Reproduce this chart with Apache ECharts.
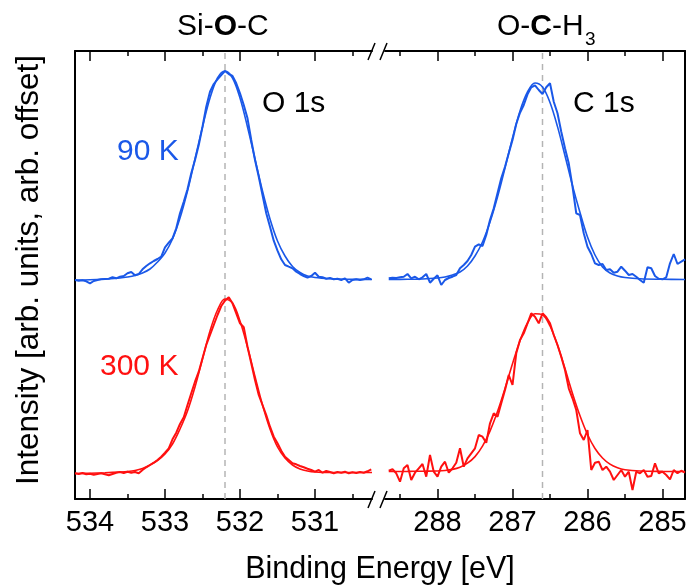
<!DOCTYPE html>
<html><head><meta charset="utf-8">
<script src="https://cdn.jsdelivr.net/npm/echarts@6/dist/echarts.min.js"></script>
<style>html,body{margin:0;padding:0;background:#fff}#c{width:687px;height:588px}</style>
</head><body><div id="c"></div><script>
// ---------- data ----------
const eLeft = [534.2,534.15,534.1,534.05,534,533.95,533.9,533.85,533.8,533.75,533.7,533.65,533.6,533.55,533.5,533.45,533.4,533.35,533.3,533.25,533.2,533.15,533.1,533.05,533,532.95,532.9,532.85,532.8,532.75,532.7,532.65,532.6,532.55,532.5,532.45,532.4,532.35,532.3,532.25,532.2,532.15,532.1,532.05,532,531.95,531.9,531.85,531.8,531.75,531.7,531.65,531.6,531.55,531.5,531.45,531.4,531.35,531.3,531.25,531.2,531.15,531.1,531.05,531,530.95,530.9,530.85,530.8,530.75,530.7,530.65,530.6,530.55,530.5,530.45,530.4,530.35,530.3,530.25];
const blueO = [219,218.3,218.7,217.7,215.7,218,219,219.7,220,220.3,221.7,220.7,222.3,223,225.7,227,223.7,225,229.7,233,235.7,238,240,242.3,251.7,256.3,260.7,270.7,285.7,297.3,309.7,325.7,339,354,372.3,392.3,407.3,415,419.7,424,428,425,423,415.7,405.7,394,380.7,359,339,322.3,304,285.7,272.3,258.3,248.3,239.7,234,232.3,230.7,227.3,225,223,221.3,223,226.3,222.3,221.7,220.3,221,219.7,220.3,219,220.7,216.3,219,219.7,219,219.7,221.3,219.7];
const redO = [25.7,25,26,24.7,25.3,24.3,25,25.7,24.7,23.7,25,26.3,27,26,27.3,26.3,27,25.7,29,31.7,34,36.3,39,42.3,46.3,50.7,59.7,66.3,75,81.7,94,105.7,117.3,127.3,140.7,154,164,174,184,193,198.3,201.7,195.7,185.7,175.7,171.7,152.3,135.7,119,104,94,84,72.3,62.3,55.7,48.3,42.3,39,35.7,34.7,33,31.7,30.3,29,27.3,29,26.3,28,27,25.7,27,26.3,27.3,25.7,26.7,26,27,26.3,27.7,29.7];
const fLeft = [534.2,534,533.8,533.6,533.5,533.4,533.3,533.2,533.1,533,532.9,532.8,532.7,532.6,532.5,532.4,532.3,532.2,532.1,532,531.9,531.8,531.7,531.6,531.5,531.4,531.3,531.2,531.1,531,530.8,530.6,530.24];
const blueOFit = [219,219.3,220,221,222,223.5,226,230,237,246,260,281,308,340,372,401,421,428,421,401,372,340,308,280,258,243,232.5,226.5,223,221.5,220.3,219.8,219.5];
const redOFit = [25.5,25.8,26.3,27,27.5,28.5,30.5,34,38.5,45,55,70,88,112,140,168,189,200,196,178,152,122.5,94,70,52,41,34,30,28,27,26.5,26.5,26.5];

const eRight = [288.65,288.6,288.55,288.5,288.45,288.4,288.35,288.3,288.25,288.2,288.15,288.1,288.05,288,287.95,287.9,287.85,287.8,287.75,287.7,287.65,287.6,287.55,287.5,287.45,287.4,287.35,287.3,287.25,287.2,287.15,287.1,287.05,287,286.95,286.9,286.85,286.8,286.75,286.7,286.65,286.6,286.55,286.5,286.45,286.4,286.35,286.3,286.25,286.2,286.15,286.1,286.05,286,285.95,285.9,285.85,285.8,285.75,285.7,285.65,285.6,285.55,285.5,285.45,285.4,285.35,285.3,285.25,285.2,285.15,285.1,285.05,285,284.95,284.9,284.85,284.8,284.75,284.7];
const blueC = [220.7,221.3,221,221.7,222.3,225,220.7,222.3,219.7,221.7,225,216.3,220.3,223.7,214,219,221,222.3,224,230.7,234,238,244,252.3,254.7,253,264,279,290.7,305.7,320.7,332.3,345.7,359,375,386.3,394,404.7,411.7,413.7,409,405,411.7,415.7,397.3,385.7,367.3,350.7,335.7,312.3,285.7,284,265.7,252.3,245,235.7,234,235,229,229.7,226.3,227.3,232.3,228.3,224,225,222.3,219,216.3,231.7,230.7,223,220.3,219.7,221.7,235.7,245,235,237.3,239.7];
const redC = [28.3,29.7,25.7,17.3,30.7,34,19,26.3,30.7,35,22.3,44,27.3,22.3,32.3,37.3,26.3,30.7,36.3,50.7,32.3,40.7,45.7,50.7,64,62.3,56.3,75.7,85.7,82.3,95.7,109,124,114,145.7,159,165.7,175.7,185.7,182.3,175.7,185.7,181.7,175.7,164,154,142.3,129,110.7,100.7,89,65.7,59,69,29,36.3,37.3,29,32.3,27.3,19,24,29,22.3,27.3,9,27.3,25.7,29,22.3,23,35.7,25.7,27.3,24,19.7,29,25.7,28.3,26.3];
const fRight = [288.65,288.4,288.2,288,287.9,287.8,287.7,287.6,287.5,287.4,287.3,287.2,287.1,287,286.9,286.8,286.7,286.6,286.5,286.4,286.3,286.2,286.1,286,285.9,285.8,285.7,285.6,285.5,285.3,285,284.7];
const blueCFit = [219.5,219.7,220,221,222,224,227,233,243,257,277,302,331,361,388,407,416,412,396.5,372.4,343.3,313.4,286.5,262,244,232,226,223,221.5,220.2,219.7,219.5];
const redCFit = [27.5,27.6,27.8,28,28.5,29.6,31.8,35.8,42.4,52.9,67.9,87.4,110.5,135.3,158.3,176,185.2,184.1,173,154,130.4,105.6,83.2,64.5,50.5,41,34.8,31.2,29.3,28,27.6,27.5];

const peakO = 532.2, peakC = 286.6;
const majorLeft = [531,532,533,534], minorLeft = [530.5,531.5,532.5,533.5];
const majorRight = [285,286,287,288], minorRight = [285.5,286.5,287.5,288.5];
const rangeLeft = [530.24, 534.2], rangeRight = [284.7, 288.7];
const yRange = [0, 448];

// ---------- styling ----------
const BLUE = '#1a58e8', RED = '#ff1010', GRAY = '#b4b4b4';
const FF = '"Liberation Sans", Arial, Helvetica, sans-serif';
const GL = {left:75, top:51, width:297, height:448};
const GR = {left:385, top:51, width:300, height:448};

function pairs(xs, ys){ return xs.map((x,i)=>[x, ys[i]]); }

function xAx(grid, range, pos, ticks, len, showLabels, showLine){
  return {
    type:'value', gridIndex:grid, position:pos, min:range[0], max:range[1], inverse:true,
    axisLine:{show:showLine, onZero:false, lineStyle:{color:'#000', width:2}},
    axisTick:{show:true, inside:true, length:len, customValues:ticks, lineStyle:{color:'#000', width:1.5}},
    axisLabel:{show:showLabels, customValues:ticks, fontSize:29, fontFamily:FF, color:'#000', margin:9, hideOverlap:false},
    splitLine:{show:false}
  };
}

const xAxes = [
  xAx(0, rangeLeft, 'bottom', majorLeft, 10, true, true),
  xAx(0, rangeLeft, 'bottom', minorLeft, 5, false, false),
  xAx(0, rangeLeft, 'top', majorLeft, 10, false, true),
  xAx(0, rangeLeft, 'top', minorLeft, 5, false, false),
  xAx(1, rangeRight, 'bottom', majorRight, 10, true, true),
  xAx(1, rangeRight, 'bottom', minorRight, 5, false, false),
  xAx(1, rangeRight, 'top', majorRight, 10, false, true),
  xAx(1, rangeRight, 'top', minorRight, 5, false, false)
];
const yAxes = [
  {type:'value', gridIndex:0, position:'left', min:yRange[0], max:yRange[1],
   axisLine:{show:true, onZero:false, lineStyle:{color:'#000', width:2}}, axisTick:{show:false}, axisLabel:{show:false}, splitLine:{show:false}},
  {type:'value', gridIndex:1, position:'right', min:yRange[0], max:yRange[1],
   axisLine:{show:true, onZero:false, lineStyle:{color:'#000', width:2}}, axisTick:{show:false}, axisLabel:{show:false}, splitLine:{show:false}}
];

function line(xi, yi, data, color, width, smooth, z){
  return {type:'line', xAxisIndex:xi, yAxisIndex:yi, data:data, showSymbol:false, symbol:'none',
    smooth:smooth, lineStyle:{color:color, width:width}, itemStyle:{color:color}, z:z, silent:true, animation:false};
}
function dashLine(xi, yi, x){
  return {type:'line', xAxisIndex:xi, yAxisIndex:yi, data:[[x, yRange[0]],[x, yRange[1]]], showSymbol:false, symbol:'none',
    lineStyle:{color:GRAY, width:1.5, type:[6,5]}, z:1, silent:true, animation:false};
}

const series = [
  dashLine(0, 0, peakO),
  dashLine(4, 1, peakC),
  line(0, 0, pairs(eLeft, blueO), BLUE, 2, false, 3),
  line(0, 0, pairs(fLeft, blueOFit), BLUE, 1.6, 0.35, 4),
  line(0, 0, pairs(eLeft, redO), RED, 2, false, 3),
  line(0, 0, pairs(fLeft, redOFit), RED, 1.6, 0.35, 4),
  line(4, 1, pairs(eRight, blueC), BLUE, 2, false, 3),
  line(4, 1, pairs(fRight, blueCFit), BLUE, 1.6, 0.35, 4),
  line(4, 1, pairs(eRight, redC), RED, 2, false, 3),
  line(4, 1, pairs(fRight, redCFit), RED, 1.6, 0.35, 4)
];

function txt(x, y, text, opts){
  opts = opts || {};
  return {type:'text', x:x, y:y, rotation:opts.rotation||0, silent:true, z:10,
    style:Object.assign({text:text, fill:opts.color||'#000', font:(opts.size||30)+'px '+FF,
      textAlign:opts.align||'left', align:opts.align||'left', textVerticalAlign:'middle', verticalAlign:'middle'}, opts.extra||{})};
}
const rich = {
  n:{fontSize:30, fontFamily:FF, fontWeight:'normal', fill:'#000', color:'#000'},
  b:{fontSize:30, fontFamily:FF, fontWeight:'bold', fill:'#000', color:'#000'}
};
const brk = [];
function slash(cx, cy){
  brk.push({type:'line', silent:true, z:10, shape:{x1:cx-3.5, y1:cy+8.5, x2:cx+3.5, y2:cy-8.5}, style:{stroke:'#000', lineWidth:1.5}});
}
const gapL = GL.left + GL.width, gapR = GR.left;
[GL.top, GL.top + GL.height].forEach(function(yy){
  slash(gapL - 0.5, yy + 0.5);
  slash(gapR - 1.5, yy + 0.5);
});

const graphic = brk.concat([
  txt(177, 26.3, '{n|Si-}{b|O}{n|-C}', {extra:{rich:rich}}),
  txt(497, 26.3, '{n|O-}{b|C}{n|-H}', {extra:{rich:rich}}),
  txt(585, 40, '3', {size:19}),
  txt(262, 104, 'O 1s'),
  txt(573, 104, 'C 1s'),
  txt(117, 151.3, '90 K', {color:BLUE}),
  txt(100, 367, '300 K', {color:RED}),
  txt(380, 569.5, 'Binding Energy [eV]', {align:'center', size:30.5}),
  txt(29.5, 270, 'Intensity [arb. units, arb. offset]', {align:'center', rotation:Math.PI/2, size:31.5})
]);

const chart = echarts.init(document.getElementById('c'), null, {renderer:'canvas'});
chart.setOption({
  animation:false,
  backgroundColor:'#fff',
  grid:[Object.assign({containLabel:false, outerBoundsMode:'none'}, GL), Object.assign({containLabel:false, outerBoundsMode:'none'}, GR)],
  xAxis:xAxes, yAxis:yAxes, series:series, graphic:graphic
});
</script></body></html>
